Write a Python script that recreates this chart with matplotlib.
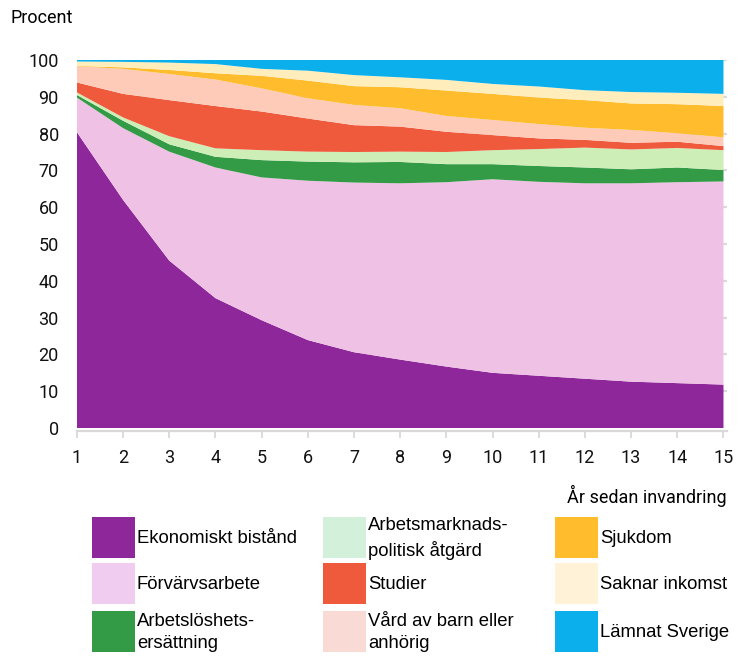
import matplotlib.pyplot as plt
import matplotlib.patches as mpatches

# Data (percent, each series stacked)
years = list(range(1, 16))
ekonomiskt = [80.4, 62.0, 45.5, 35.3, 29.3, 23.9, 20.6, 18.6, 16.7, 15.0, 14.2, 13.4, 12.6, 12.2, 11.8]
forvarv = [9.4, 19.5, 29.6, 35.5, 38.8, 43.3, 46.1, 47.9, 50.1, 52.6, 52.7, 53.1, 53.9, 54.6, 55.2]
arbetsloshet = [0.7, 2.0, 2.0, 2.9, 4.7, 5.2, 5.5, 5.8, 4.9, 4.1, 4.3, 4.3, 3.8, 4.0, 3.1]
arbetsmarknad = [0.7, 0.9, 2.2, 2.3, 2.7, 2.7, 2.8, 2.8, 3.3, 3.8, 4.6, 5.4, 5.4, 5.3, 5.4]
studier = [2.7, 6.4, 9.8, 11.5, 10.5, 9.0, 7.3, 6.8, 5.5, 4.1, 2.9, 2.1, 1.8, 1.7, 1.1]
vard = [4.4, 6.8, 7.1, 7.2, 6.3, 5.5, 5.5, 5.0, 4.3, 4.1, 3.9, 3.3, 3.5, 2.3, 2.4]
sjukdom = [0.1, 0.4, 1.1, 1.7, 3.4, 4.8, 5.1, 5.7, 6.9, 7.1, 7.2, 7.5, 7.2, 7.9, 8.5]
saknar = [1.2, 1.5, 2.0, 2.5, 1.9, 2.7, 3.0, 2.7, 2.9, 2.7, 3.0, 2.7, 3.1, 3.1, 3.3]
lamnat = [0.4, 0.5, 0.7, 1.1, 2.4, 2.9, 4.1, 4.7, 5.4, 6.5, 7.2, 8.2, 8.7, 8.9, 9.2]

series = [ekonomiskt, forvarv, arbetsloshet, arbetsmarknad, studier, vard, sjukdom, saknar, lamnat]
labels = ['Ekonomiskt bistånd', 'Förvärvsarbete', 'Arbetslöshets-\nersättning',
          'Arbetsmarknads-\npolitisk åtgärd', 'Studier', 'Vård av barn eller\nanhörig',
          'Sjukdom', 'Saknar inkomst', 'Lämnat Sverige']
area_colors = ['#8E2799', '#EEC1E5', '#339A46', '#CDEFB7', '#F05A3C', '#FECBB9',
               '#FFBC2C', '#FFEEBB', '#0AAFEB']
legend_colors = ['#8E2799', '#F0CCF0', '#339A46', '#D2F0DA', '#F05A3C', '#F9DAD5',
                 '#FFBC2C', '#FFF2D6', '#0AAFEB']

fig = plt.figure(figsize=(7.39, 6.58), dpi=100)
ax = fig.add_axes([0.104, 0.3495, 0.880, 0.5593])

ax.stackplot(years, *series, colors=area_colors, linewidth=0, zorder=2)

ax.set_xlim(1, 15.08)
ax.set_ylim(0, 100)
ax.set_xticks(years)
ax.set_yticks(range(0, 101, 10))
for v in range(10, 101, 10):
    ax.axhline(v, color='#d9d9d9', lw=1.6, zorder=1)

for s in ['top', 'right', 'left']:
    ax.spines[s].set_visible(False)
ax.spines['bottom'].set_color('#d9d9d9')
ax.spines['bottom'].set_linewidth(1.6)
ax.spines['bottom'].set_position(('outward', 2))
ax.tick_params(axis='x', length=5, width=1.3, color='#d9d9d9', pad=8,
               labelsize=13, labelcolor='#111111')
ax.tick_params(axis='y', length=0, pad=13, labelsize=13, labelcolor='#111111')
for lab in ax.get_xticklabels() + ax.get_yticklabels():
    lab.set_fontfamily('Roboto')

fig.text(0.014, 0.972, 'Procent', fontsize=13, family='Roboto', va='center', ha='left')
fig.text(0.983, 0.247, 'År sedan invandring', fontsize=13, family='Roboto',
         va='center', ha='right')

# manual legend, 3 columns
col_x = [92, 323, 555]
row_y = [517, 563, 611]
W, H = 43, 41
for i, (lab, col) in enumerate(zip(labels, legend_colors)):
    c, r = divmod(i, 3)
    x0, y0 = col_x[c], row_y[r]
    fig.add_artist(mpatches.Rectangle((x0 / 739, 1 - (y0 + H) / 658), W / 739, H / 658,
                                      transform=fig.transFigure, color=col, lw=0))
    fig.text((x0 + W + 2) / 739, 1 - (y0 + H / 2 + 1) / 658, lab, fontsize=13.3,
             family='Liberation Sans', va='center', ha='left', linespacing=1.45)

fig.savefig('out.png', dpi=100)
